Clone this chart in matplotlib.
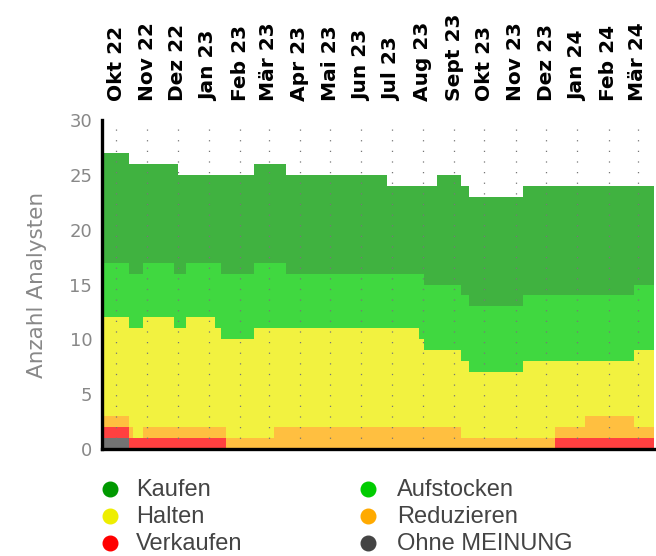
import matplotlib
matplotlib.use('Agg')
import matplotlib.pyplot as plt
import numpy as np
import pandas as pd

# ---- data ----
change_dates = ["2022-09-17", "2022-10-14", "2022-10-18", "2022-10-28", "2022-11-27",
                "2022-12-01", "2022-12-09", "2023-01-07", "2023-01-13", "2023-01-18",
                "2023-02-15", "2023-03-06", "2023-03-18", "2023-06-26", "2023-07-28",
                "2023-08-02", "2023-08-15", "2023-09-08", "2023-09-16", "2023-11-08",
                "2023-12-10", "2024-01-09", "2024-02-26"]
end_date = "2024-03-17"

ohne_meinung = [1, 0, 0, 0, 0, 0, 0, 0, 0, 0, 0, 0, 0, 0, 0, 0, 0, 0, 0, 0, 0, 0, 0]
verkaufen    = [1, 1, 1, 1, 1, 1, 1, 1, 1, 0, 0, 0, 0, 0, 0, 0, 0, 0, 0, 0, 1, 1, 1]
reduzieren   = [1, 1, 0, 1, 1, 1, 1, 1, 1, 1, 1, 2, 2, 2, 2, 2, 2, 1, 1, 1, 1, 2, 1]
halten       = [9, 9, 10, 10, 9, 9, 10, 9, 8, 9, 10, 9, 9, 9, 8, 7, 7, 7, 6, 7, 6, 5, 7]
aufstocken   = [5, 5, 5, 5, 5, 5, 5, 6, 6, 6, 6, 6, 5, 5, 6, 6, 6, 6, 6, 6, 6, 6, 6]
kaufen       = [10, 10, 10, 9, 10, 9, 8, 8, 9, 9, 9, 9, 9, 8, 8, 9, 10, 10, 10, 10, 10, 10, 9]

month_ticks = pd.date_range("2022-10-01", "2024-03-01", freq="MS")
month_labels = ["Okt 22", "Nov 22", "Dez 22", "Jan 23", "Feb 23", "Mär 23", "Apr 23", "Mai 23",
                "Jun 23", "Jul 23", "Aug 23", "Sept 23", "Okt 23", "Nov 23", "Dez 23",
                "Jan 24", "Feb 24", "Mär 24"]

series_names = ["Ohne MEINUNG", "Verkaufen", "Reduzieren", "Halten", "Aufstocken", "Kaufen"]
series_vals = [ohne_meinung, verkaufen, reduzieren, halten, aufstocken, kaufen]
series_colors = ["#444444", "#ff0000", "#ffaa00", "#eeee00", "#00cc00", "#009900"]

# ---- figure ----
fig = plt.figure(figsize=(6.56, 5.56), dpi=100)
W, H = 656, 556
ax = fig.add_axes([102 / W, 1 - 449 / H, (654 - 102) / W, (449 - 120) / H])

x = pd.to_datetime(change_dates + [end_date])
ys = [np.array(v + [v[-1]]) for v in series_vals]
ax.stackplot(x, *ys, colors=series_colors, alpha=0.75, step='post', linewidth=0)

ax.set_xlim(x[0], x[-1])
ax.set_ylim(0, 30)
ax.set_yticks(range(0, 31, 5))

ax.xaxis.tick_top()
ax.set_xticks(month_ticks)
ax.set_xticklabels(month_labels, rotation=90, fontweight='bold', fontsize=14.5,
                   family='DejaVu Sans', color='black')
ax.tick_params(axis='x', length=0, pad=14)
ax.tick_params(axis='y', length=0, pad=7, labelsize=13, labelcolor='#888888')

ax.grid(axis='x', color='#777777', linestyle=(0, (1, 7.5)), linewidth=0.9)
ax.grid(axis='y', visible=False)
ax.set_axisbelow(False)

for s in ['top', 'right']:
    ax.spines[s].set_visible(False)
for s in ['left', 'bottom']:
    ax.spines[s].set_linewidth(2.4)
    ax.spines[s].set_color('black')
    ax.spines[s].set_zorder(5)

ax.set_ylabel("Anzahl Analysten", fontsize=15.5, color='#888888')
ax.yaxis.set_label_coords(-0.1, 0.5)

# ---- legend (manual) ----
lax = fig.add_axes([0, 0, 1, 1])
lax.set_xlim(0, W)
lax.set_ylim(H, 0)
lax.axis('off')
legend_order = ["Kaufen", "Halten", "Verkaufen", "Aufstocken", "Reduzieren", "Ohne MEINUNG"]
col_marker_x = [110, 368]
col_text_x = [136, 397]
row_y = [489, 516, 543]
for i, name in enumerate(legend_order):
    c, r = divmod(i, 3)
    col = series_colors[series_names.index(name)]
    lax.plot([col_marker_x[c]], [row_y[r]], 'o', color=col, markersize=10.5)
    lax.text(col_text_x[c], row_y[r] + 1, name, fontsize=17, color='#444444',
             family='Liberation Sans', va='center', ha='left')

fig.savefig("out.png", dpi=100)
